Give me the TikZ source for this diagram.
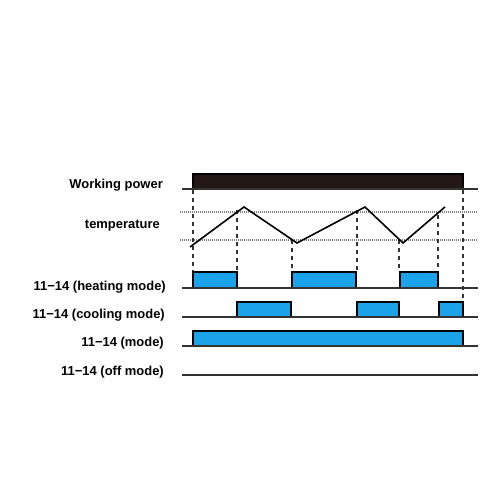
\documentclass[tikz,border=0pt]{standalone}
\usepackage{fontspec}
\setmainfont{Liberation Sans}
\begin{document}
\begin{tikzpicture}[x=1bp,y=-1bp,
  lbl/.style={anchor=base east,inner sep=0pt,font=\fontsize{13}{15}\selectfont\bfseries},
  base/.style={draw=black!80,line width=1.5bp},
  pulse/.style={draw=black,line width=1.3bp,fill=pblue},
  guide/.style={draw=black!80,line width=1.3bp,dash pattern=on 4bp off 4bp},
  level/.style={draw=black!50,line width=1.1bp,dash pattern=on 1.2bp off 0.8bp},
  wave/.style={draw=black,line width=1.6bp,line join=miter}]
\definecolor{pblue}{HTML}{1AA3E8}
\definecolor{pdark}{HTML}{231815}
\useasboundingbox (0,0) rectangle (500,500);
% labels
\node[lbl] (lp) at (163,189) {Working power};
\node[lbl] (lt) at (160,228) {temperature};
\node[lbl] (lh) at (166,290) {11−14 (heating mode)};
\node[lbl] (lc) at (165,318) {11−14 (cooling mode)};
\node[lbl] (lm) at (164,346) {11−14 (mode)};
\node[lbl] (lo) at (164,375) {11−14 (off mode)};
% level lines
\draw[level] (180,212) -- (478,212);
\draw[level] (180,240) -- (478,240);
% guides
\draw[guide] (193,190) -- (193,272);
\draw[guide] (237,210) -- (237,272);
\draw[guide] (292,240) -- (292,272);
\draw[guide] (357,210) -- (357,272);
\draw[guide] (399,240) -- (399,272);
\draw[guide] (438,215) -- (438,272);
\draw[guide] (463,190) -- (463,302);
% working power
\draw[draw=black,line width=1.2bp,fill=pdark] (193,189) rectangle (463,174);
\draw[base] (182,189) -- (478,189);
% temperature
\draw[wave] (190,247) -- (244,207) -- (297,243) -- (365,207) -- (403,243) -- (445,207);
% heating
\draw[pulse] (193,288) rectangle (237,272);
\draw[pulse] (292,288) rectangle (356,272);
\draw[pulse] (400,288) rectangle (438,272);
\draw[base] (182,288) -- (478,288);
% cooling
\draw[pulse] (237,317) rectangle (291,302);
\draw[pulse] (357,317) rectangle (399,302);
\draw[pulse] (439,317) rectangle (463,302);
\draw[base] (182,317) -- (478,317);
% mode
\draw[pulse] (193,346) rectangle (463,331);
\draw[base] (182,346) -- (478,346);
% off
\draw[base] (182,375) -- (478,375);
\end{tikzpicture}
\end{document}
